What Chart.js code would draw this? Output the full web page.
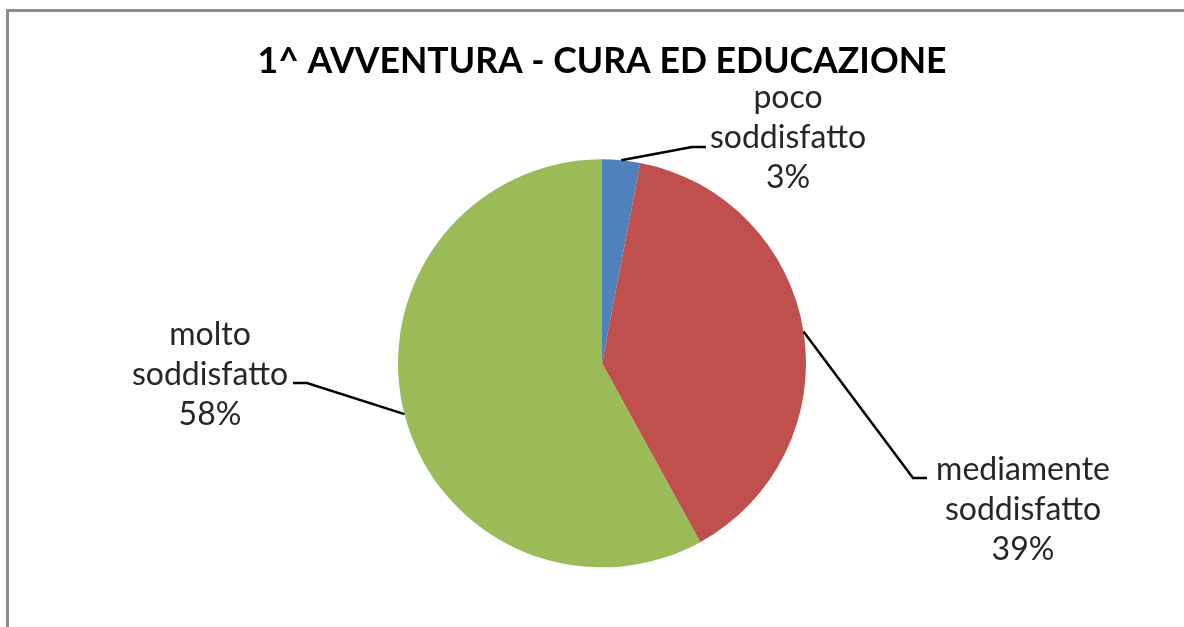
<!DOCTYPE html>
<html>
<head>
<meta charset="utf-8">
<title>1^ AVVENTURA - CURA ED EDUCAZIONE</title>
<script src="https://cdn.jsdelivr.net/npm/chart.js@4/dist/chart.umd.min.js"></script>
<style>
    body { margin: 0; background: #fff; }
    canvas { display: block; }
</style>
</head>
<body>
<canvas id="pieChart" width="1184" height="627"></canvas>
<script>
// Risposte del questionario (percentuali)
const categories = ['poco soddisfatto', 'mediamente soddisfatto', 'molto soddisfatto'];
const labelLines = [['poco', 'soddisfatto'], ['mediamente', 'soddisfatto'], ['molto', 'soddisfatto']];
const percentages = [3, 39, 58];
const sliceColors = ['#4f81bd', '#c0504d', '#9bbb59'];

// Posizione delle etichette: centro del testo, gomito e fine della linea guida
const labelLayout = [
    { cx: 788, cy: 138, elbow: [692, 147], end: [706, 147] },
    { cx: 1023, cy: 510, elbow: [913, 478], end: [927, 478] },
    { cx: 210, cy: 375, elbow: [307, 383], end: [293, 383] }
];

// Cornice grigia in alto e a sinistra
const framePlugin = {
    id: 'frame',
    beforeDraw(chart) {
        const ctx = chart.ctx;
        ctx.save();
        ctx.fillStyle = '#fff';
        ctx.fillRect(0, 0, chart.width, chart.height);
        ctx.strokeStyle = '#8c8c8c';
        ctx.lineWidth = 3;
        ctx.beginPath();
        ctx.moveTo(7.5, chart.height);
        ctx.lineTo(7.5, 10.5);
        ctx.lineTo(chart.width, 10.5);
        ctx.stroke();
        ctx.restore();
    }
};

// Etichette con linea guida
const leaderLabels = {
    id: 'leaderLabels',
    afterDatasetsDraw(chart) {
        const ctx = chart.ctx;
        const meta = chart.getDatasetMeta(0);
        ctx.save();
        meta.data.forEach((arc, i) => {
            const p = arc.getProps(['x', 'y', 'startAngle', 'endAngle', 'outerRadius'], true);
            const mid = (p.startAngle + p.endAngle) / 2;
            const sx = p.x + Math.cos(mid) * p.outerRadius;
            const sy = p.y + Math.sin(mid) * p.outerRadius;
            const lay = labelLayout[i];

            ctx.strokeStyle = '#000';
            ctx.lineWidth = 2.5;
            ctx.beginPath();
            ctx.moveTo(sx, sy);
            ctx.lineTo(lay.elbow[0], lay.elbow[1]);
            ctx.lineTo(lay.end[0], lay.end[1]);
            ctx.stroke();

            const lines = labelLines[i].concat([percentages[i] + '%']);
            ctx.fillStyle = '#262626';
            ctx.font = '32px Lato';
            ctx.textAlign = 'center';
            ctx.textBaseline = 'middle';
            lines.forEach((t, k) => {
                ctx.fillText(t, lay.cx, lay.cy + (k - 1) * 40);
            });
        });
        ctx.restore();
    }
};

const ctx = document.getElementById('pieChart').getContext('2d');
const pieChart = new Chart(ctx, {
    type: 'pie',
    data: {
        labels: categories,
        datasets: [{
            data: percentages,
            backgroundColor: sliceColors,
            borderWidth: 0,
            radius: 204
        }]
    },
    options: {
        responsive: false,
        animation: false,
        devicePixelRatio: 1,
        layout: {
            padding: { left: 20, right: 0, top: 0, bottom: 60 }
        },
        plugins: {
            legend: { display: false },
            tooltip: { enabled: false },
            title: {
                display: true,
                text: '1^ AVVENTURA - CURA ED EDUCAZIONE',
                color: '#000',
                font: { family: 'Lato', size: 35.6, weight: 'bold', lineHeight: 1.2 },
                padding: { top: 40, bottom: 77 }
            }
        }
    },
    plugins: [framePlugin, leaderLabels]
});
</script>
</body>
</html>
